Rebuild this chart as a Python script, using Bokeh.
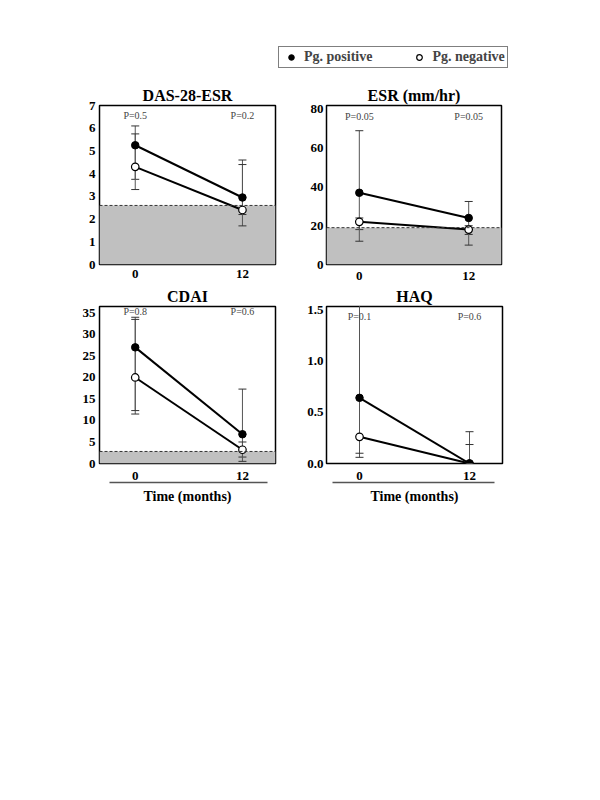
from bokeh.plotting import figure
from bokeh.layouts import column, row
from bokeh.models import (BoxAnnotation, Span, FixedTicker, LinearAxis, Legend,
                          LegendItem, ColumnDataSource)
from bokeh.core.properties import value
from bokeh.embed import file_html
from bokeh.resources import INLINE

# ---------------- data ----------------
months = [0, 12]
month_labels = ["0", "12"]

das_pos = [5.25, 2.95]
das_pos_lo = [3.75, 2.2]
das_pos_hi = [6.1, 4.6]
das_neg = [4.3, 2.4]
das_neg_lo = [3.3, 1.7]
das_neg_hi = [5.75, 4.4]
das_p = ["P=0.5", "P=0.2"]
das_thr = 2.6
das_ticks = [0, 1, 2, 3, 4, 5, 6, 7]
das_tick_labels = ["0", "1", "2", "3", "4", "5", "6", "7"]

esr_pos = [37, 24]
esr_pos_lo = [18, 15.5]
esr_pos_hi = [69, 32.5]
esr_neg = [22, 18]
esr_neg_lo = [12, 10]
esr_neg_hi = [24, 20]
esr_p = ["P=0.05", "P=0.05"]
esr_thr = 19
esr_ticks = [0, 20, 40, 60, 80]
esr_tick_labels = ["0", "20", "40", "60", "80"]

cdai_pos = [27, 6.8]
cdai_pos_lo = [11.5, 1.5]
cdai_pos_hi = [34, 17.3]
cdai_neg = [20, 3.2]
cdai_neg_lo = [12.3, 0.5]
cdai_neg_hi = [33.5, 5]
cdai_p = ["P=0.8", "P=0.6"]
cdai_thr = 2.8
cdai_ticks = [0, 5, 10, 15, 20, 25, 30, 35]
cdai_tick_labels = ["0", "5", "10", "15", "20", "25", "30", "35"]

haq_pos = [0.64, 0.0]
haq_pos_lo = [0.06, 0.0]
haq_pos_hi = [1.7, 0.31]
haq_neg = [0.26, 0.0]
haq_neg_lo = [0.10, 0.0]
haq_neg_hi = [1.6, 0.185]
haq_p = ["P=0.1", "P=0.6"]
haq_thr = None
haq_ticks = [0, 0.5, 1.0, 1.5]
haq_tick_labels = ["0.0", "0.5", "1.0", "1.5"]

legend_labels = ["Pg. positive", "Pg. negative"]
x_title = "Time (months)"

FONT = "Liberation Serif"


def style_axis(ax, ticks, labels, standoff):
    ax.ticker = FixedTicker(ticks=ticks)
    ax.major_label_overrides = {t: l for t, l in zip(ticks, labels)}
    ax.major_label_text_font = FONT
    ax.major_label_text_font_style = "bold"
    ax.major_label_text_font_size = "13px"
    ax.major_label_text_color = "black"
    ax.major_tick_in = 0
    ax.major_tick_out = 0
    ax.minor_tick_in = 0
    ax.minor_tick_out = 0
    ax.axis_line_color = None
    ax.major_label_standoff = standoff


def panel(title, pos, pos_lo, pos_hi, neg, neg_lo, neg_hi, plabels, p_frac,
          thr, yticks, ylabels, ymax, xr, width, height, borders,
          xstand, ystand, time_axis):
    bl, br, bt, bb = borders
    p = figure(width=width, height=height, x_range=xr, y_range=(0, ymax),
               toolbar_location=None, output_backend="svg",
               min_border_left=bl, min_border_right=br,
               min_border_top=bt, min_border_bottom=bb, title=title)
    p.title.text_font = FONT
    p.title.text_font_size = "16px"
    p.title.text_font_style = "bold"
    p.title.text_color = "black"
    p.title.text_line_height = 1.0
    p.title.align = "center"
    p.title.standoff = 3
    p.grid.visible = False
    p.outline_line_color = "black"
    p.outline_line_width = 1.5
    p.background_fill_color = "white"
    p.border_fill_color = "white"
    style_axis(p.xaxis[0], months, month_labels, xstand)
    style_axis(p.yaxis[0], yticks, ylabels, ystand)

    if thr is not None:
        p.add_layout(BoxAnnotation(bottom=0, top=thr, fill_color="#c0c0c0",
                                   fill_alpha=1.0, line_color=None,
                                   level="underlay"))
        p.add_layout(Span(location=thr, dimension="width", line_color="#333333",
                          line_dash="3 2", line_width=1))

    # error bars
    for lo, hi in ((pos_lo, pos_hi), (neg_lo, neg_hi)):
        src = ColumnDataSource(dict(x=months, lo=lo, hi=hi))
        p.segment(x0="x", y0="lo", x1="x", y1="hi", source=src,
                  line_color="#555555", line_width=1)
        p.scatter(x="x", y="lo", source=src, marker="dash", size=8,
                  line_color="#333333", line_width=1)
        p.scatter(x="x", y="hi", source=src, marker="dash", size=8,
                  line_color="#333333", line_width=1)

    p.line(months, pos, line_color="black", line_width=2)
    p.line(months, neg, line_color="black", line_width=2)
    p.scatter(months, neg, marker="circle", size=7.5, fill_color="white",
              line_color="black", line_width=1.2)
    p.scatter(months, pos, marker="circle", size=7.5, fill_color="black",
              line_color="black")

    p.text(x=months, y=[ymax * p_frac] * len(months), text=plabels,
           text_font=value(FONT), text_font_size="10px", text_color="#444444",
           text_align="center", text_baseline="middle")

    if time_axis:
        t_ax = LinearAxis(ticker=FixedTicker(ticks=[]), bounds=(-2.9, 14.75),
                          axis_label=x_title)
        t_ax.major_tick_in = 0
        t_ax.major_tick_out = 0
        t_ax.minor_tick_in = 0
        t_ax.minor_tick_out = 0
        t_ax.major_label_standoff = 0
        t_ax.axis_line_color = "#555555"
        t_ax.axis_line_width = 1.5
        t_ax.axis_label_standoff = 6
        t_ax.axis_label_text_font = FONT
        t_ax.axis_label_text_font_style = "bold"
        t_ax.axis_label_text_font_size = "14px"
        t_ax.axis_label_text_color = "black"
        p.add_layout(t_ax, "below")
    return p


XL = (-4.0, 15.7)
XR = (-3.6, 15.6)

p1 = panel("DAS-28-ESR", das_pos, das_pos_lo, das_pos_hi, das_neg, das_neg_lo,
           das_neg_hi, das_p, 0.937, das_thr, das_ticks, das_tick_labels, 7,
           XL, 300, 202, (99, 25, 23, 18), 5, 4, False)
p2 = panel("ESR (mm/hr)", esr_pos, esr_pos_lo, esr_pos_hi, esr_neg, esr_neg_lo,
           esr_neg_hi, esr_p, 0.93, esr_thr, esr_ticks, esr_tick_labels, 82,
           XR, 292, 202, (26, 91, 19, 20), 7, 3, False)
p3 = panel("CDAI", cdai_pos, cdai_pos_lo, cdai_pos_hi, cdai_neg, cdai_neg_lo,
           cdai_neg_hi, cdai_p, 0.965, cdai_thr, cdai_ticks, cdai_tick_labels,
           36.5, XL, 300, 226, (99, 25, 19, 47), 8, 4, True)
p4 = panel("HAQ", haq_pos, haq_pos_lo, haq_pos_hi, haq_neg, haq_neg_lo,
           haq_neg_hi, haq_p, 0.935, haq_thr, haq_ticks, haq_tick_labels, 1.53,
           XR, 292, 226, (26, 90, 21, 47), 8, 3, True)

# legend figure
lf = figure(width=592, height=82, x_range=(0, 1), y_range=(0, 1),
            toolbar_location=None, output_backend="svg", min_border=0,
            x_axis_location=None, y_axis_location=None)
lf.grid.visible = False
lf.outline_line_color = None
# legend glyph renderers (their single point lies outside the visible range)
r1 = lf.scatter([-1], [-1], marker="circle", size=11, fill_color="black",
                line_color="black")
r2 = lf.scatter([-1], [-1], marker="circle", size=11, fill_color="white",
                line_color="black", line_width=1.2)
leg = Legend(items=[LegendItem(label=legend_labels[0], renderers=[r1]),
                    LegendItem(label=legend_labels[1], renderers=[r2])],
             orientation="horizontal", location=(278, 14))
leg.border_line_color = "black"
leg.border_line_width = 1.5
leg.padding = 2
leg.margin = 0
leg.spacing = 37
leg.glyph_width = 20
leg.glyph_height = 14
leg.label_height = 14
leg.label_standoff = 3
leg.label_text_font = FONT
leg.label_text_font_style = "bold"
leg.label_text_font_size = "14px"
leg.background_fill_alpha = 1.0
lf.add_layout(leg)

layout = column(lf, row(p1, p2), row(p3, p4))
open("out.html", "w").write(file_html(layout, INLINE))
